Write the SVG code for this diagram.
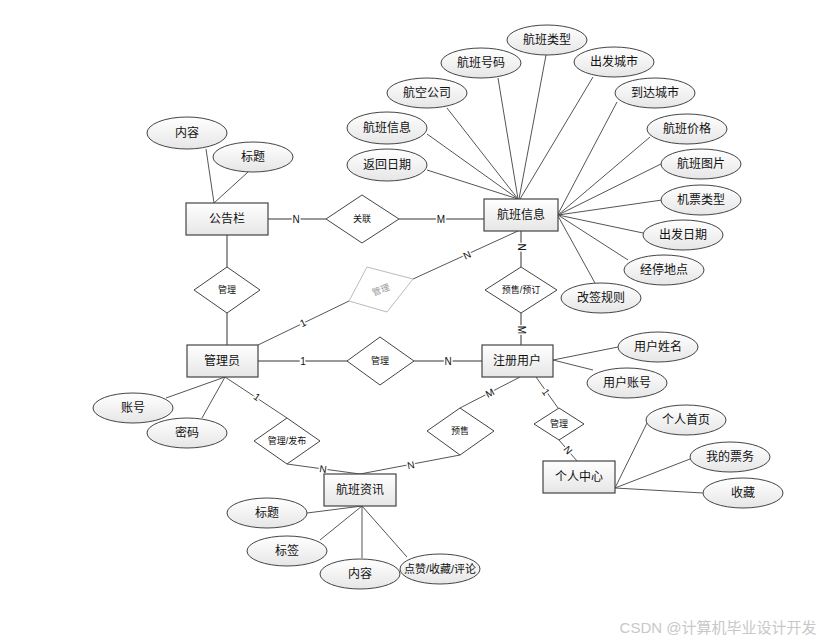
<svg xmlns="http://www.w3.org/2000/svg" width="828" height="643" viewBox="0 0 828 643">
<defs>
<linearGradient id="g" x1="0" y1="0" x2="0" y2="1"><stop offset="0" stop-color="#ffffff"/><stop offset="1" stop-color="#e6e6e6"/></linearGradient>
<style>
text{font-family:"Liberation Sans","Noto Sans CJK SC",sans-serif;fill:#111;text-anchor:middle;dominant-baseline:central}
.e rect{fill:url(#g);stroke:#444;stroke-width:1.2}
.a ellipse{fill:url(#g);stroke:#444;stroke-width:1}
.e text,.a text{font-size:12px}
.d polygon{fill:#fff;stroke:#444;stroke-width:1}
.d text{font-size:9px}
.r{stroke:#777;stroke-width:1.5;fill:none}
.t{stroke:#555;stroke-width:1;fill:none}
.lb{font-size:10px;stroke:#fff;stroke-width:3;paint-order:stroke;fill:#111}
</style>
</defs>
<rect width="828" height="643" fill="#fff"/>
<g id="connectors">
<line class="t" x1="206" y1="149" x2="214" y2="203"/>
<line class="t" x1="248" y1="172" x2="214" y2="203"/>
<line class="r" x1="268" y1="219" x2="326" y2="219"/>
<line class="r" x1="399" y1="219" x2="484" y2="219"/>
<line class="r" x1="227" y1="235" x2="227" y2="267"/>
<line class="r" x1="227" y1="313" x2="227" y2="345"/>
<line class="t" x1="258" y1="345" x2="349" y2="301"/>
<line class="t" x1="413" y1="279" x2="518" y2="231"/>
<line class="r" x1="521" y1="231" x2="521" y2="267"/>
<line class="r" x1="521" y1="313" x2="521" y2="345"/>
<line class="r" x1="258" y1="361" x2="347" y2="361"/>
<line class="r" x1="414" y1="361" x2="482" y2="361"/>
<line class="t" x1="427" y1="134" x2="518" y2="199"/>
<line class="t" x1="427" y1="170" x2="518" y2="199"/>
<line class="t" x1="447" y1="108" x2="518" y2="199"/>
<line class="t" x1="498" y1="78" x2="518" y2="199"/>
<line class="t" x1="546" y1="55" x2="519" y2="199"/>
<line class="t" x1="593" y1="77" x2="520" y2="199"/>
<line class="t" x1="617" y1="102" x2="558" y2="214"/>
<line class="t" x1="650" y1="137" x2="558" y2="215"/>
<line class="t" x1="665" y1="162" x2="558" y2="215"/>
<line class="t" x1="662" y1="200" x2="558" y2="215"/>
<line class="t" x1="643" y1="233" x2="558" y2="215"/>
<line class="t" x1="628" y1="260" x2="558" y2="215"/>
<line class="t" x1="595" y1="283" x2="558" y2="216"/>
<line class="t" x1="553" y1="360" x2="618" y2="347"/>
<line class="t" x1="553" y1="360" x2="593" y2="370"/>
<line class="t" x1="536" y1="377" x2="558" y2="408"/>
<line class="t" x1="559" y1="440" x2="577" y2="461"/>
<line class="t" x1="615" y1="488" x2="647" y2="423"/>
<line class="t" x1="615" y1="488" x2="690" y2="459"/>
<line class="t" x1="615" y1="488" x2="703" y2="493"/>
<line class="t" x1="520" y1="377" x2="460" y2="408"/>
<line class="t" x1="460" y1="455" x2="360" y2="474"/>
<line class="t" x1="287" y1="464" x2="360" y2="474"/>
<line class="t" x1="225" y1="377" x2="166" y2="398"/>
<line class="t" x1="225" y1="377" x2="202" y2="418"/>
<line class="t" x1="225" y1="377" x2="287" y2="418"/>
<line class="t" x1="362" y1="506" x2="307" y2="513"/>
<line class="t" x1="362" y1="506" x2="320" y2="540"/>
<line class="t" x1="362" y1="506" x2="362" y2="558"/>
<line class="t" x1="362" y1="506" x2="407" y2="557"/>
<text class="lb" x="296" y="219">N</text>
<text class="lb" x="441" y="219">M</text>
<text class="lb" x="303" y="323" transform="rotate(-26 303 323)">1</text>
<text class="lb" x="467" y="255" transform="rotate(-25 467 255)">N</text>
<text class="lb" x="521" y="247" transform="rotate(90 521 247)">N</text>
<text class="lb" x="521" y="330" transform="rotate(90 521 330)">M</text>
<text class="lb" x="303" y="361">1</text>
<text class="lb" x="448" y="361">N</text>
<text class="lb" x="490" y="393" transform="rotate(-27 490 393)">M</text>
<text class="lb" x="546" y="392" transform="rotate(55 546 392)">1</text>
<text class="lb" x="568" y="450" transform="rotate(50 568 450)">N</text>
<text class="lb" x="411" y="465" transform="rotate(-11 411 465)">N</text>
<text class="lb" x="323" y="469" transform="rotate(8 323 469)">N</text>
<text class="lb" x="257" y="397" transform="rotate(34 257 397)">1</text>
</g>
<g id="e_gonggaolan" class="e"><rect x="186" y="203" width="82" height="32"/><text x="227" y="219">公告栏</text></g>
<g id="e_hangban" class="e"><rect x="484" y="199" width="74" height="32"/><text x="521" y="215">航班信息</text></g>
<g id="e_guanliyuan" class="e"><rect x="187" y="345" width="71" height="32"/><text x="222" y="361">管理员</text></g>
<g id="e_zhuce" class="e"><rect x="482" y="345" width="71" height="32"/><text x="517" y="361">注册用户</text></g>
<g id="e_geren" class="e"><rect x="543" y="461" width="72" height="32"/><text x="579" y="477">个人中心</text></g>
<g id="e_zixun" class="e"><rect x="324" y="474" width="72" height="32"/><text x="360" y="490">航班资讯</text></g>
<g id="d_guanlian" class="d"><polygon points="326,219 362,195 399,219 362,243"/><text x="362" y="219">关联</text></g>
<g id="d_guanli1" class="d"><polygon points="194,290 227,267 260,290 227,313"/><text x="227" y="290">管理</text></g>
<g id="d_guanli2" class="d"><polygon points="349,301 367,267 413,279 387,312" style="stroke:#bbb"/><text x="381" y="290" transform="rotate(-20 381 290)" style="fill:#999">管理</text></g>
<g id="d_guanli3" class="d"><polygon points="347,361 380,337 414,361 380,385"/><text x="380" y="361">管理</text></g>
<g id="d_yushou" class="d"><polygon points="485,290 521,267 557,290 521,313"/><text x="521" y="290">预售/预订</text></g>
<g id="d_yushou2" class="d"><polygon points="427,431 460,408 494,431 460,455"/><text x="460" y="431">预售</text></g>
<g id="d_guanli4" class="d"><polygon points="534,424 559,408 584,424 559,440"/><text x="559" y="424">管理</text></g>
<g id="d_fabu" class="d"><polygon points="254,441 287,418 320,441 287,464"/><text x="287" y="441">管理/发布</text></g>
<g id="a1" class="a"><ellipse cx="187" cy="133" rx="40" ry="16"/><text x="187" y="133">内容</text></g>
<g id="a2" class="a"><ellipse cx="253" cy="157" rx="40" ry="15"/><text x="253" y="157">标题</text></g>
<g id="a3" class="a"><ellipse cx="387" cy="128" rx="40" ry="16"/><text x="387" y="128">航班信息</text></g>
<g id="a4" class="a"><ellipse cx="387" cy="165" rx="40" ry="16"/><text x="387" y="165">返回日期</text></g>
<g id="a5" class="a"><ellipse cx="427" cy="93" rx="40" ry="15"/><text x="427" y="93">航空公司</text></g>
<g id="a6" class="a"><ellipse cx="481" cy="63" rx="40" ry="15"/><text x="481" y="63">航班号码</text></g>
<g id="a7" class="a"><ellipse cx="547" cy="40" rx="40" ry="15"/><text x="547" y="40">航班类型</text></g>
<g id="a8" class="a"><ellipse cx="614" cy="62" rx="40" ry="15"/><text x="614" y="62">出发城市</text></g>
<g id="a9" class="a"><ellipse cx="655" cy="93" rx="40" ry="15"/><text x="655" y="93">到达城市</text></g>
<g id="a10" class="a"><ellipse cx="687" cy="129" rx="40" ry="15"/><text x="687" y="129">航班价格</text></g>
<g id="a11" class="a"><ellipse cx="701" cy="164" rx="40" ry="15"/><text x="701" y="164">航班图片</text></g>
<g id="a12" class="a"><ellipse cx="701" cy="200" rx="40" ry="15"/><text x="701" y="200">机票类型</text></g>
<g id="a13" class="a"><ellipse cx="683" cy="235" rx="40" ry="15"/><text x="683" y="235">出发日期</text></g>
<g id="a14" class="a"><ellipse cx="664" cy="270" rx="40" ry="15"/><text x="664" y="270">经停地点</text></g>
<g id="a15" class="a"><ellipse cx="601" cy="298" rx="40" ry="15"/><text x="601" y="298">改签规则</text></g>
<g id="a16" class="a"><ellipse cx="658" cy="347" rx="40" ry="15"/><text x="658" y="347">用户姓名</text></g>
<g id="a17" class="a"><ellipse cx="627" cy="383" rx="40" ry="15"/><text x="627" y="383">用户账号</text></g>
<g id="a18" class="a"><ellipse cx="686" cy="420" rx="40" ry="15"/><text x="686" y="420">个人首页</text></g>
<g id="a19" class="a"><ellipse cx="730" cy="457" rx="40" ry="15"/><text x="730" y="457">我的票务</text></g>
<g id="a20" class="a"><ellipse cx="743" cy="493" rx="40" ry="15"/><text x="743" y="493">收藏</text></g>
<g id="a21" class="a"><ellipse cx="133" cy="408" rx="40" ry="15"/><text x="133" y="408">账号</text></g>
<g id="a22" class="a"><ellipse cx="187" cy="433" rx="40" ry="15"/><text x="187" y="433">密码</text></g>
<g id="a23" class="a"><ellipse cx="267" cy="513" rx="40" ry="15"/><text x="267" y="513">标题</text></g>
<g id="a24" class="a"><ellipse cx="287" cy="551" rx="40" ry="15"/><text x="287" y="551">标签</text></g>
<g id="a25" class="a"><ellipse cx="360" cy="574" rx="40" ry="15"/><text x="360" y="574">内容</text></g>
<g id="a26" class="a"><ellipse cx="440" cy="569" rx="40" ry="15"/><text x="440" y="569" style="font-size:11px">点赞/收藏/评论</text></g>
<text x="718" y="627" style="font-size:15px;fill:#c8c8c8">CSDN @计算机毕业设计开发</text>
</svg>
